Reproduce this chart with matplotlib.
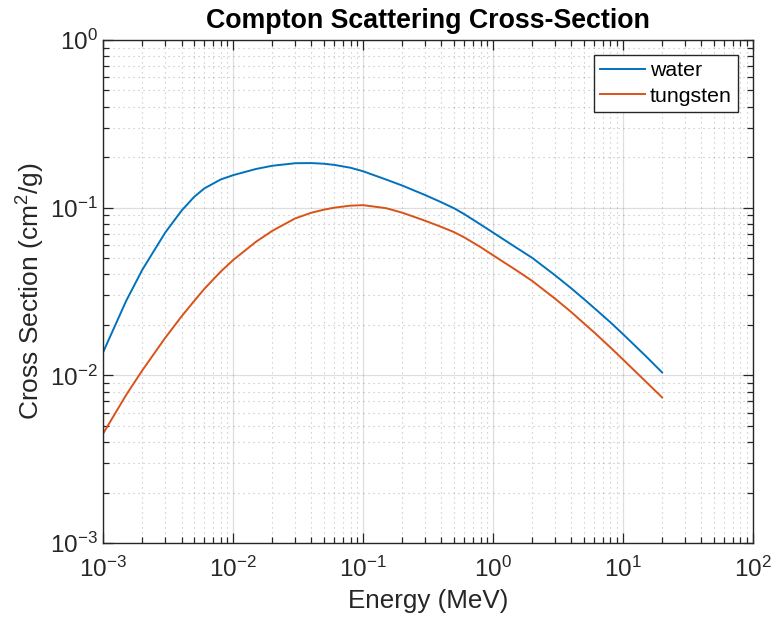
import numpy as np
import matplotlib
matplotlib.use("Agg")
import matplotlib.pyplot as plt
from matplotlib.ticker import LogLocator, NullFormatter

plt.rcParams['font.family'] = ['Liberation Sans', 'DejaVu Sans']
plt.rcParams['mathtext.fontset'] = 'custom'
plt.rcParams['mathtext.rm'] = 'Liberation Sans'
plt.rcParams['mathtext.it'] = 'Liberation Sans:italic'
plt.rcParams['mathtext.bf'] = 'Liberation Sans:bold'

# photon energy grid (MeV)
energy = [0.001, 0.0015, 0.002, 0.003, 0.004, 0.005, 0.006, 0.008,
          0.01, 0.015, 0.02, 0.03, 0.04, 0.05, 0.06, 0.08,
          0.1, 0.15, 0.2, 0.3, 0.4, 0.5, 0.6, 0.8,
          1.0, 1.5, 2.0, 3.0, 4.0, 5.0, 6.0, 8.0,
          10.0, 15.0, 20.0]

# incoherent (Compton) cross section, cm^2/g
water = [0.0138, 0.0278, 0.0427, 0.0711, 0.0959, 0.1159, 0.1303, 0.1472,
         0.1563, 0.1702, 0.1778, 0.1841, 0.1845, 0.1828, 0.1799, 0.1730,
         0.1648, 0.1472, 0.1355, 0.1189, 0.1077, 0.0992, 0.0915, 0.0794,
         0.0710, 0.0579, 0.0502, 0.0395, 0.0330, 0.0285, 0.0252, 0.0207,
         0.0176, 0.0130, 0.0104]

tungsten = [0.00451, 0.00764, 0.01072, 0.01675, 0.02244, 0.02773, 0.03281, 0.04150,
            0.04875, 0.06266, 0.07278, 0.08630, 0.09333, 0.09728, 0.10000, 0.10280,
            0.10351, 0.09931, 0.09333, 0.08356, 0.07674, 0.07150, 0.06650, 0.05821,
            0.05200, 0.04246, 0.03656, 0.02864, 0.02382, 0.02042, 0.01803, 0.01466,
            0.01242, 0.00916, 0.00738]

labels = ['water', 'tungsten']
colors = ['#0072BD', '#D95319']
axcol = '#262626'

fig = plt.figure(figsize=(7.73, 6.26), dpi=100)
ax = fig.add_axes([0.1336, 0.1326, 0.8405, 0.8035])

ax.loglog(energy, water, color=colors[0], lw=1.4, label=labels[0])
ax.loglog(energy, tungsten, color=colors[1], lw=1.4, label=labels[1])

ax.set_xlim(1e-3, 1e2)
ax.set_ylim(1e-3, 1e0)
ax.xaxis.set_major_locator(LogLocator(base=10, numticks=20))
ax.yaxis.set_major_locator(LogLocator(base=10, numticks=20))
ax.xaxis.set_minor_locator(LogLocator(base=10, subs=np.arange(2, 10), numticks=50))
ax.yaxis.set_minor_locator(LogLocator(base=10, subs=np.arange(2, 10), numticks=50))
ax.xaxis.set_minor_formatter(NullFormatter())
ax.yaxis.set_minor_formatter(NullFormatter())

ax.grid(True, which='major', color='#262626', alpha=0.15, lw=0.9, ls='-')
ax.grid(True, which='minor', color='#262626', alpha=0.3, lw=0.8, ls=(0, (1, 3.5)))

ax.tick_params(which='both', direction='in', top=True, right=True,
               color=axcol, labelcolor=axcol, labelsize=17.5, width=0.9)
ax.tick_params(which='major', length=7)
ax.tick_params(which='minor', length=4)
ax.tick_params(axis='x', which='major', pad=10)
ax.tick_params(axis='y', which='major', pad=4)
for s in ax.spines.values():
    s.set_color(axcol)
    s.set_linewidth(1.0)

ax.set_xlabel('Energy (MeV)', fontsize=18.7, color=axcol, labelpad=5)
ax.set_ylabel('Cross Section (cm$^2$/g)', fontsize=19, color=axcol, labelpad=2)
ax.set_title('Compton Scattering Cross-Section', fontsize=19.3,
             fontweight='bold', pad=9)

leg = ax.legend(loc='upper right', fontsize=15.3, fancybox=False,
                edgecolor=axcol, framealpha=1, borderaxespad=0.7,
                handlelength=2.1, handletextpad=0.25, labelspacing=0.3,
                borderpad=0.3)
leg.get_frame().set_linewidth(1.0)

fig.savefig('out.png', dpi=100)
